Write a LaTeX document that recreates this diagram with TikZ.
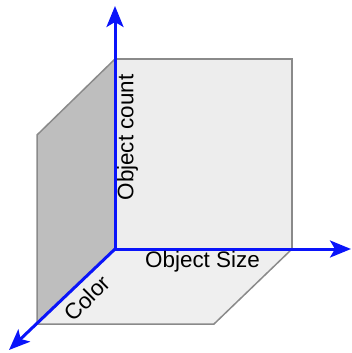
\documentclass[tikz,border=0pt]{standalone}
\usepackage{fontspec}
\setmainfont{Liberation Sans}
\usetikzlibrary{arrows.meta}
\definecolor{wallback}{HTML}{EDEDED}
\definecolor{wallleft}{HTML}{BEBEBE}
\definecolor{wallfloor}{HTML}{EFEFEF}
\definecolor{edgegray}{HTML}{8A8A8A}
\definecolor{axisblue}{HTML}{0A14FA}
\tikzset{
  wall/.style={draw=edgegray, line width=1.5bp, line join=miter},
  axis/.style={draw=axisblue, line width=3bp, -{Stealth[length=21bp,width=17bp,inset=5bp]}},
  lbl/.style={font=\fontsize{22.5}{25}\selectfont, inner sep=0pt, text=black}
}
\begin{document}
\begin{tikzpicture}[x=1bp,y=-1bp]
\useasboundingbox (0,0) rectangle (352,353);
\coordinate (O) at (115,249);
\coordinate (BT) at (115,59);
\coordinate (BR) at (292,59);
\coordinate (BRB) at (292,249);
\coordinate (LT) at (37,135);
\coordinate (LB) at (37,324);
\coordinate (FR) at (214,324);
\coordinate (Ytip) at (115,6);
\coordinate (Xtip) at (351,249);
\coordinate (Ztip) at (9,350);
% back wall
\path[wall, fill=wallback] (O) -- (BT) -- (BR) -- (BRB) -- cycle;
% left wall
\path[wall, fill=wallleft] (O) -- (BT) -- (LT) -- (LB) -- cycle;
% floor
\path[wall, fill=wallfloor] (O) -- (BRB) -- (FR) -- (LB) -- cycle;
% axes
\draw[axis] (O) -- (Ytip);
\draw[axis] (O) -- (Xtip);
\draw[axis] (O) -- (Ztip);
% labels
\node[lbl, rotate=90] (count) at (127.5,137.5) {Object count};
\node[lbl] (size) at (202.5,262) {Object Size};
\node[lbl, rotate=45] (color) at (87,298) {Color};
\end{tikzpicture}
\end{document}
